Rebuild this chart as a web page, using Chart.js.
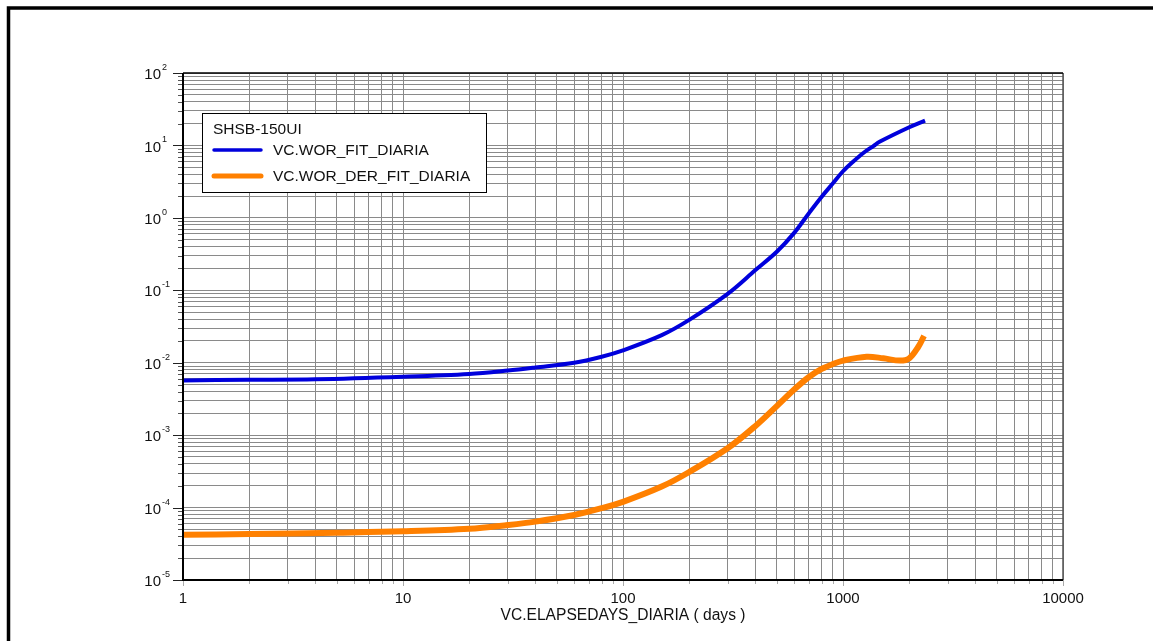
<!DOCTYPE html>
<html>
<head>
<meta charset="utf-8">
<title>SHSB-150UI WOR</title>
<script src="https://cdn.jsdelivr.net/npm/chart.js@4/dist/chart.umd.min.js"></script>
<style>
  html, body { margin: 0; padding: 0; background: #ffffff; }
  #c { display: block; }
</style>
</head>
<body>
<canvas id="c" width="1153" height="641"></canvas>
<script>
// Well and series names
const wellName = 'SHSB-150UI';
const worLabel = 'VC.WOR_FIT_DIARIA';
const derLabel = 'VC.WOR_DER_FIT_DIARIA';
const xAxisTitle = 'VC.ELAPSEDAYS_DIARIA ( days )';

// WOR fit (elapsed days -> WOR)
const worDays = [1, 2, 4, 10, 20, 30, 40, 60, 80, 100, 150, 200, 300, 400, 500, 600, 700, 800, 900, 1000, 1114, 1233, 1374, 1473, 2000, 2360];
const worValues = [0.0057, 0.0058, 0.0059, 0.0064, 0.0070, 0.0078, 0.0086, 0.0100, 0.0121, 0.0148, 0.024, 0.039, 0.090, 0.19, 0.34, 0.62, 1.16, 1.96, 3.0, 4.4, 6.0, 7.8, 9.8, 11.3, 17.8, 22.0];

// WOR derivative fit (elapsed days -> dWOR)
const derDays = [1, 2, 5, 10, 20, 30, 40, 60, 80, 100, 150, 200, 300, 400, 500, 600, 700, 800, 900, 1000, 1280, 1525, 1816, 2000, 2200, 2335];
const derValues = [4.2e-5, 4.3e-5, 4.5e-5, 4.7e-5, 5.1e-5, 5.75e-5, 6.4e-5, 7.9e-5, 9.8e-5, 1.2e-4, 1.95e-4, 3.1e-4, 6.65e-4, 1.34e-3, 2.52e-3, 4.27e-3, 6.35e-3, 8.2e-3, 9.6e-3, 1.07e-2, 1.21e-2, 1.15e-2, 1.07e-2, 1.15e-2, 1.66e-2, 2.34e-2];

// Axis decades and labels
const xTickValues = [1, 10, 100, 1000, 10000];
const xTickLabels = ['1', '10', '100', '1000', '10000'];
const yTickValues = [1e-5, 1e-4, 1e-3, 1e-2, 1e-1, 1, 10, 100];
const yTickExponents = ['-5', '-4', '-3', '-2', '-1', '0', '1', '2'];
const minorSteps = [2, 3, 4, 5, 6, 7, 8, 9];

const FONT = "'Liberation Sans', Arial, sans-serif";
const BLUE = '#0000dc';
const ORANGE = '#ff8000';
const GRID = '#8a8a8a';

// full log grid: each decade plus 2..9 within it
function logTicks(decades) {
  const out = [];
  decades.forEach((d, i) => {
    out.push({ value: d, major: true });
    if (i < decades.length - 1) minorSteps.forEach(m => out.push({ value: +(d * m).toPrecision(6), major: false }));
  });
  return out;
}

const toPoints = (xs, ys) => xs.map((x, i) => ({ x, y: ys[i] }));

const decorations = {
  id: 'decorations',
  beforeDraw(chart) {
    const ctx = chart.ctx;
    ctx.save();
    ctx.fillStyle = '#ffffff';
    ctx.fillRect(0, 0, chart.width, chart.height);
    ctx.restore();
  },
  afterDraw(chart) {
    const { ctx, chartArea: a, scales } = chart;
    const xs = scales.x, ys = scales.y;
    ctx.save();

    // outer page frame
    ctx.strokeStyle = '#000000';
    ctx.lineWidth = 3.5;
    ctx.beginPath();
    ctx.moveTo(8.5, chart.height + 10);
    ctx.lineTo(8.5, 8);
    ctx.lineTo(chart.width + 10, 8);
    ctx.stroke();

    // tick marks outside the plot
    ys.ticks.forEach(t => {
      const py = Math.round(ys.getPixelForValue(t.value)) + 0.5;
      ctx.strokeStyle = t.major ? '#222222' : '#555555';
      ctx.lineWidth = 1;
      ctx.beginPath();
      ctx.moveTo(a.left - (t.major ? 10 : 5), py);
      ctx.lineTo(a.left, py);
      ctx.stroke();
    });
    xs.ticks.forEach(t => {
      const px = Math.round(xs.getPixelForValue(t.value)) + 0.5;
      ctx.strokeStyle = '#aaaaaa';
      ctx.lineWidth = 1;
      ctx.beginPath();
      ctx.moveTo(px, a.bottom);
      ctx.lineTo(px, a.bottom + (t.major ? 6 : 4));
      ctx.stroke();
    });

    // plot frame
    ctx.strokeStyle = '#555555';
    ctx.lineWidth = 1.5;
    ctx.beginPath();
    ctx.moveTo(a.right, a.top);
    ctx.lineTo(a.right, a.bottom);
    ctx.stroke();
    ctx.strokeStyle = '#000000';
    ctx.lineWidth = 1.5;
    ctx.beginPath();
    ctx.moveTo(a.left, a.top);
    ctx.lineTo(a.right, a.top);
    ctx.stroke();
    ctx.lineWidth = 2;
    ctx.beginPath();
    ctx.moveTo(a.left, a.top);
    ctx.lineTo(a.left, a.bottom);
    ctx.lineTo(a.right, a.bottom);
    ctx.stroke();

    // x tick labels
    ctx.fillStyle = '#111111';
    ctx.font = '15px ' + FONT;
    ctx.textAlign = 'center';
    ctx.textBaseline = 'middle';
    xTickValues.forEach((v, i) => {
      ctx.fillText(xTickLabels[i], xs.getPixelForValue(v), 599);
    });

    // y tick labels: 10 with superscript exponent
    yTickValues.forEach((v, i) => {
      const py = ys.getPixelForValue(v);
      ctx.font = '15px ' + FONT;
      ctx.textAlign = 'right';
      ctx.textBaseline = 'middle';
      ctx.fillText('10', 161, py + 2);
      ctx.font = '9px ' + FONT;
      ctx.textAlign = 'left';
      ctx.textBaseline = 'alphabetic';
      ctx.fillText(yTickExponents[i], 162, py - 3);
    });

    // x axis title
    ctx.font = '15.6px ' + FONT;
    ctx.textAlign = 'center';
    ctx.textBaseline = 'middle';
    ctx.fillText(xAxisTitle, (a.left + a.right) / 2, 616);

    // legend box
    const bx = 202.5, by = 113.5, bw = 284, bh = 79;
    ctx.fillStyle = '#ffffff';
    ctx.fillRect(bx, by, bw, bh);
    ctx.strokeStyle = '#000000';
    ctx.lineWidth = 1;
    ctx.strokeRect(bx, by, bw, bh);
    ctx.fillStyle = '#111111';
    ctx.font = '15.5px ' + FONT;
    ctx.textAlign = 'left';
    ctx.textBaseline = 'middle';
    ctx.fillText(wellName, 213, 130);
    const rows = [150, 176];
    chart.data.datasets.forEach((ds, i) => {
      ctx.strokeStyle = ds.borderColor;
      ctx.lineWidth = i === 0 ? 3.5 : 5;
      ctx.lineCap = 'round';
      ctx.beginPath();
      ctx.moveTo(214, rows[i]);
      ctx.lineTo(261, rows[i]);
      ctx.stroke();
      ctx.fillStyle = '#111111';
      ctx.fillText(ds.label, 273, rows[i] + 1);
    });
    ctx.restore();
  }
};

new Chart(document.getElementById('c'), {
  type: 'line',
  data: {
    datasets: [
      {
        label: worLabel,
        data: toPoints(worDays, worValues),
        borderColor: BLUE,
        backgroundColor: BLUE,
        borderWidth: 4,
        pointRadius: 0,
        tension: 0.35,
        fill: false
      },
      {
        label: derLabel,
        data: toPoints(derDays, derValues),
        borderColor: ORANGE,
        backgroundColor: ORANGE,
        borderWidth: 6,
        pointRadius: 0,
        tension: 0.35,
        fill: false
      }
    ]
  },
  options: {
    responsive: false,
    animation: false,
    events: [],
    layout: { padding: { left: 183, top: 73, right: 90, bottom: 61 } },
    plugins: { legend: { display: false }, tooltip: { enabled: false }, title: { display: false } },
    scales: {
      x: {
        type: 'logarithmic',
        min: 1,
        max: 10000,
        afterBuildTicks: s => { s.ticks = logTicks(xTickValues); },
        ticks: { display: false },
        grid: { color: GRID, lineWidth: 1, drawTicks: false, tickLength: 0 },
        border: { display: false }
      },
      y: {
        type: 'logarithmic',
        min: 1e-5,
        max: 100,
        afterBuildTicks: s => { s.ticks = logTicks(yTickValues); },
        ticks: { display: false },
        grid: { color: GRID, lineWidth: 1, drawTicks: false, tickLength: 0 },
        border: { display: false }
      }
    }
  },
  plugins: [decorations]
});
</script>
</body>
</html>
